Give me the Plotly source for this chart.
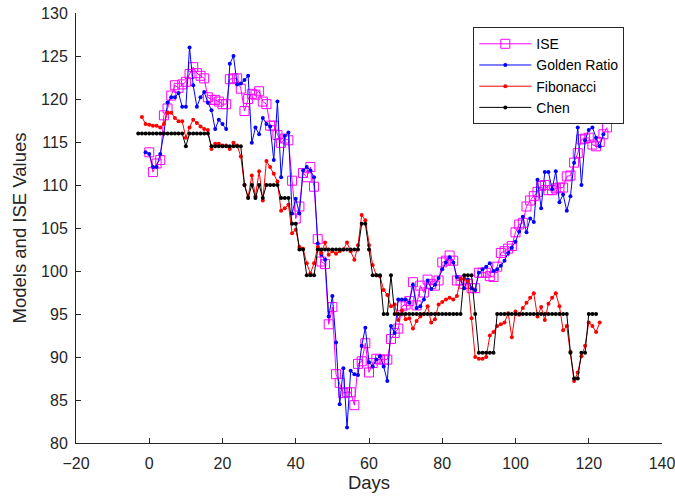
import plotly.graph_objects as go

# ---- data ----
ise_start = 0
ise = [113.8, 111.5, 112.5, 112.9, 118.1, 118.9, 120.4, 121.6, 121.3, 121.7,
       122.0, 122.9, 123.7, 123.0, 122.7, 122.4, 120.2, 119.9, 119.9, 119.7,
       119.4, 119.4, 122.3, 122.4, 122.4, 121.2, 118.6, 120.0, 120.6, 120.5,
       120.9, 119.7, 119.4, 116.9, 116.9, 115.8, 114.9, 115.4, 115.2, 110.5,
       106.1, 107.5, 111.4, 110.9, 112.1, 109.8, 103.7, 101.1, 100.8, 93.8,
       95.8, 88.0, 87.0, 85.8, 85.9, 85.9, 84.4, 89.2, 89.5, 91.6,
       88.2, 89.3, 89.8, 89.7, 89.7, 89.7, 92.1, 92.8, 93.3, 95.9,
       96.1, 96.5, 98.7, 96.0, 98.3, 97.5, 99.0, 98.5, 98.3, 98.9,
       101.0, 101.2, 101.8, 101.2, 98.9, 98.9, 98.5, 98.5, 98.0, 98.0,
       99.8, 99.8, 99.8, 99.4, 99.3, 100.5, 102.1, 102.3, 102.6, 102.9,
       104.5, 105.4, 105.6, 107.5, 108.2, 108.7, 109.2, 109.9, 110.0, 109.4,
       109.4, 109.6, 109.7, 109.7, 111.0, 111.1, 112.6, 113.7, 115.3, 115.4,
       115.5, 114.7, 114.5, 115.0, 115.9, 116.7]

golden_start = -1
golden = [113.8, 113.6, 112.1, 112.1, 113.6, 116.0, 119.6, 120.2, 120.2, 120.7,
          119.1, 119.1, 126.0, 121.6, 119.1, 120.2, 120.8, 119.6, 118.7, 116.5,
          117.6, 117.1, 116.5, 124.1, 125.0, 121.7, 121.8, 122.2, 122.7, 114.9,
          116.7, 115.9, 117.8, 117.1, 116.8, 112.9, 119.7, 110.9, 115.7, 116.1,
          106.7, 108.4, 106.7, 111.7, 112.1, 111.7, 110.9, 103.2, 101.9, 101.3,
          94.7, 97.1, 91.7, 84.5, 88.7, 81.8, 88.4, 88.0, 87.9, 91.3,
          93.4, 89.4, 88.9, 89.7, 90.1, 88.9, 87.2, 93.6, 92.8, 96.7,
          96.7, 96.7, 96.3, 98.4, 95.7, 95.9, 96.7, 98.9, 97.9, 98.4,
          99.2, 100.2, 101.0, 101.6, 101.0, 99.3, 99.0, 98.0, 99.0, 98.0,
          97.8, 99.8, 100.2, 100.5, 100.9, 100.0, 100.2, 100.6, 101.2, 102.1,
          102.7, 103.4, 104.6, 106.3, 104.5, 106.1, 105.7, 110.6, 107.3, 111.5,
          111.5, 109.5, 111.6, 108.0, 108.9, 107.0, 108.7, 112.6, 116.7, 110.0,
          115.2, 116.4, 116.7, 115.5, 114.5, 115.9]

fib_start = -2
fibonacci = [117.9, 117.1, 117.0, 116.9, 116.9, 116.7, 117.1, 118.4, 118.4, 117.8,
             117.4, 117.4, 115.5, 116.7, 117.6, 117.2, 116.8, 116.5, 116.4,
             114.2, 114.8, 114.8, 114.6, 114.6, 114.2, 114.9, 114.6, 113.3, 110.0,
             108.6, 111.1, 108.7, 111.6, 108.2, 112.8, 112.1, 111.3, 110.4,
             107.0, 107.3, 107.7, 104.4, 104.8, 102.8, 102.6, 100.9, 99.7, 100.9,
             102.8, 102.1, 103.3, 101.9, 102.3, 102.0, 102.3, 102.5, 103.3, 102.3,
             101.3, 103.0, 106.5, 105.9, 103.0, 100.7, 99.5, 99.4, 97.8, 97.2,
             95.9, 96.1,
             94.3, 95.4, 94.4, 94.5, 93.3, 94.2, 94.7, 95.0, 95.9, 94.0,
             94.4, 96.1, 96.4, 96.7, 96.9, 96.7, 97.1, 99.1, 99.1, 98.8,
             94.5, 90.0, 89.8, 89.8, 90.0, 92.5, 92.9, 93.6, 93.8,
             94.0, 95.1, 92.3, 95.3, 94.9, 95.7, 96.3, 96.9, 97.4, 94.7,
             95.8, 94.3, 96.2, 96.9, 97.4, 95.9, 93.1, 93.6, 90.6, 87.2,
             88.2, 90.1, 91.3, 94.0, 93.6, 92.9, 94.0]

chen_start = -3
chen = [116.0, 116.0, 116.0, 116.0, 116.0, 116.0, 116.0, 116.0, 116.0, 116.0,
        116.0, 116.0, 116.0, 114.5, 116.0, 116.0, 116.0, 116.0, 116.0, 116.0,
        114.5, 114.5, 114.5, 114.5, 114.5, 114.5, 114.5, 114.5, 114.5,
        110.0, 108.5, 110.0, 108.5, 110.0, 108.5, 110.0, 110.0, 110.0, 110.0,
        108.5, 108.5, 108.5, 105.5, 105.5, 102.5, 102.5, 99.5, 99.5, 99.5,
        102.5, 102.5, 102.5, 102.5, 102.5, 102.5, 102.5, 102.5, 102.5, 102.5,
        102.5, 102.5, 105.5, 105.5, 102.5, 99.5, 99.5, 99.5, 95.0, 95.0,
        99.5,
        95.0, 95.0, 95.0, 95.0, 95.0, 95.0, 95.0, 95.0, 95.0, 95.0,
        95.0, 95.0, 95.0, 95.0, 95.0, 95.0, 95.0, 95.0, 95.0,
        99.5, 99.5, 99.5, 95.0, 90.5, 90.5, 90.5, 90.5, 90.5,
        95.0, 95.0, 95.0, 95.0, 95.0, 95.0, 95.0, 95.0, 95.0, 95.0,
        95.0, 95.0, 95.0, 95.0, 95.0, 95.0, 95.0, 95.0, 95.0, 95.0,
        90.5, 87.5, 87.5, 90.5, 90.5, 95.0, 95.0, 95.0]

x_ticks = [-20, 0, 20, 40, 60, 80, 100, 120, 140]
y_ticks = [80, 85, 90, 95, 100, 105, 110, 115, 120, 125, 130]


def days(start, vals):
    return list(range(start, start + len(vals)))


FONT = "Liberation Sans, Arial, Helvetica, sans-serif"
AX = "#262626"

fig = go.Figure()
fig.add_trace(go.Scatter(
    x=days(ise_start, ise), y=ise, name="ISE", mode="lines+markers",
    line=dict(color="#FF00FF", width=1),
    marker=dict(symbol="square-open", size=9, color="#FF00FF",
                line=dict(width=1, color="#FF00FF"))))
fig.add_trace(go.Scatter(
    x=days(golden_start, golden), y=golden, name="Golden Ratio",
    mode="lines+markers", line=dict(color="#0000FF", width=1),
    marker=dict(symbol="circle", size=4, color="#0000FF")))
fig.add_trace(go.Scatter(
    x=days(fib_start, fibonacci), y=fibonacci, name="Fibonacci",
    mode="lines+markers", line=dict(color="#FF0000", width=1),
    marker=dict(symbol="circle", size=4, color="#FF0000")))
fig.add_trace(go.Scatter(
    x=days(chen_start, chen), y=chen, name="Chen",
    mode="lines+markers", line=dict(color="#000000", width=1),
    marker=dict(symbol="circle", size=4, color="#000000")))

axis_common = dict(
    showgrid=False, zeroline=False, showline=True, linecolor=AX, linewidth=1,
    ticks="inside", ticklen=5, tickwidth=1, tickcolor=AX,
    tickfont=dict(family=FONT, size=16, color="#262626"),
    mirror=False, automargin=False, ticklabeloverflow="allow",
)

fig.update_layout(
    width=675, height=499,
    margin=dict(l=76, r=13, t=13, b=56, autoexpand=False),
    paper_bgcolor="white", plot_bgcolor="white",
    font=dict(family=FONT, size=16, color="#262626"),
    xaxis=dict(range=[-20, 140], tickvals=x_ticks,
               title=dict(text="Days", font=dict(family=FONT, size=18.5, color="#262626"),
                          standoff=4),
               ticklabelstandoff=6, **axis_common),
    yaxis=dict(range=[80, 130], tickvals=y_ticks,
               title=dict(text="Models and ISE Values",
                          font=dict(family=FONT, size=18.5, color="#262626"),
                          standoff=9),
               ticklabelstandoff=4, **axis_common),
    legend=dict(x=0.678, y=0.967, xanchor="left", yanchor="top",
                bgcolor="white", bordercolor=AX, borderwidth=1,
                font=dict(family=FONT, size=14, color="#000000"),
                itemwidth=52, tracegroupgap=0),
    showlegend=True,
)

# remove the default 8px page margin so the figure sits at the window's top-left
fig.write_html("out.html",
               config={"displayModeBar": False},
               post_script="document.body.style.margin='0px';")
